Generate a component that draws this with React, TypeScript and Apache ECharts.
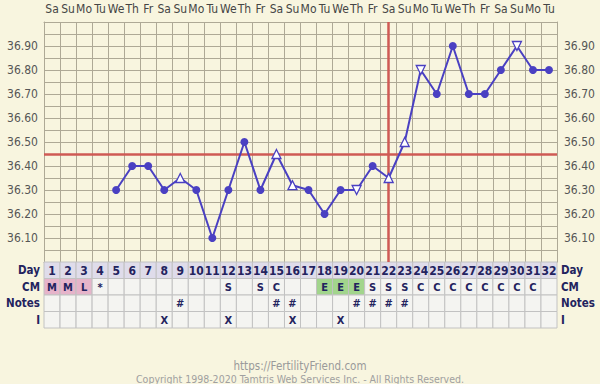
import React, { useEffect, useRef } from "react";
import * as echarts from "echarts";

const days: string[] = Array.from({ length: 32 }, (_, i) => String(i + 1));
const weekdays: string[] = [
  "Sa","Su","Mo","Tu","We","Th","Fr","Sa","Su","Mo","Tu","We","Th","Fr","Sa","Su",
  "Mo","Tu","We","Th","Fr","Sa","Su","Mo","Tu","We","Th","Fr","Sa","Su","Mo","Tu",
];
// temperature per cycle day (null = no reading)
const temps: (number | null)[] = [
  null, null, null, null, 36.3, 36.4, 36.4, 36.3, 36.35, 36.3, 36.1, 36.3, 36.5, 36.3, 36.45, 36.32,
  36.3, 36.2, 36.3, 36.3, 36.4, 36.35, 36.5, 36.8, 36.7, 36.9, 36.7, 36.7, 36.8, 36.9, 36.8, 36.8,
];
// o = normal (filled), u = open triangle up, d = open triangle down
const markers: string[] = [
  "", "", "", "", "o", "o", "o", "o", "u", "o", "o", "o", "o", "o", "u", "u",
  "o", "o", "o", "d", "o", "u", "u", "d", "o", "o", "o", "o", "o", "d", "o", "o",
];
const coverline = 36.45;
const ovulationDay = "22";
const rowNames: string[] = ["Day", "CM", "Notes", "I"];
const cmRow: string[] = [
  "M", "M", "L", "*", "", "", "", "", "", "", "", "S", "", "S", "C", "",
  "", "E", "E", "E", "S", "S", "S", "C", "C", "C", "C", "C", "C", "C", "C", "",
];
const notesRow: string[] = [
  "", "", "", "", "", "", "", "", "#", "", "", "", "", "", "#", "#",
  "", "", "", "#", "#", "#", "#", "", "", "", "", "", "", "", "", "",
];
const iRow: string[] = [
  "", "", "", "", "", "", "", "X", "", "", "", "X", "", "", "", "X",
  "", "", "X", "", "", "", "", "", "", "", "", "", "", "", "", "",
];

const BG = "#f8f5df";
const GRIDLINE = "#aea996";
const BLUE = "#4a40c2";
const RED = "#cf5a54";
const NAVY = "#23235e";
const FONT = "'DejaVu Sans Condensed', 'DejaVu Sans', sans-serif";

export default function App() {
  const ref = useRef<HTMLDivElement>(null);
  useEffect(() => {
    if (!ref.current) return;
    const chart = echarts.init(ref.current, undefined, { renderer: "svg" });

    const lineData = temps.map((t, i) => {
      if (t === null) return { value: null };
      const m = markers[i];
      if (m === "o") {
        return { value: t, symbol: "circle", symbolSize: 8, itemStyle: { color: BLUE } };
      }
      return {
        value: t,
        symbol: "triangle",
        symbolSize: 9,
        symbolRotate: m === "d" ? 180 : 0,
        itemStyle: { color: "#ffffff", borderColor: BLUE, borderWidth: 1.3 },
      };
    });

    const cellBg = (row: number, col: number, text: string) => {
      if (row === 0) return "#dfdcea";
      if (row === 1 && (text === "M" || text === "L")) return "#e6b4ca";
      if (row === 1 && text === "E") return "#a2d58c";
      return "#f4f4f1";
    };
    const tableData: any[] = [];
    for (let c = 0; c < 32; c++) {
      const texts = [days[c], cmRow[c], notesRow[c], iRow[c]];
      for (let r = 0; r < 4; r++) {
        tableData.push({ value: [c, r], txt: texts[r], bg: cellBg(r, c, texts[r]) });
      }
    }

    const yFormatter = (v: number) => {
      const k = Math.round(v * 100);
      if (k % 10 !== 0 || k === 3600 || k === 3700) return "";
      return (k / 100).toFixed(2);
    };

    const option: any = {
      animation: false,
      backgroundColor: BG,
      textStyle: { fontFamily: FONT },
      grid: [
        { left: 44, top: 22, width: 513, height: 240 },
        { left: 44, top: 262, width: 513, height: 66 },
      ],
      xAxis: [
        {
          type: "category", gridIndex: 0, data: days, boundaryGap: true,
          axisLabel: { show: false }, axisTick: { show: false },
          axisLine: { show: true, lineStyle: { color: GRIDLINE } },
          splitLine: { show: true, interval: 0, lineStyle: { color: GRIDLINE, width: 1 } },
        },
        {
          type: "category", gridIndex: 0, data: weekdays, position: "top", boundaryGap: true,
          axisLabel: { interval: 0, color: "#454545", fontSize: 12, margin: 7, fontFamily: FONT },
          axisTick: { show: false },
          axisLine: { show: true, lineStyle: { color: GRIDLINE } },
          splitLine: { show: false },
        },
        {
          type: "category", gridIndex: 1, data: days, boundaryGap: true,
          axisLabel: { show: false }, axisTick: { show: false }, axisLine: { show: false },
          splitLine: { show: false },
        },
      ],
      yAxis: [
        {
          type: "value", gridIndex: 0, min: 36, max: 37, interval: 0.05, position: "left",
          axisLabel: { formatter: yFormatter, color: "#555555", fontSize: 12, margin: 6, fontFamily: FONT },
          axisTick: { show: false },
          axisLine: { show: true, lineStyle: { color: GRIDLINE } },
          splitLine: { show: true, lineStyle: { color: GRIDLINE, width: 1 } },
        },
        {
          type: "value", gridIndex: 0, min: 36, max: 37, interval: 0.05, position: "right",
          axisLabel: { formatter: yFormatter, color: "#555555", fontSize: 12, margin: 7, fontFamily: FONT },
          axisTick: { show: false },
          axisLine: { show: true, lineStyle: { color: GRIDLINE } },
          splitLine: { show: false },
        },
        {
          type: "category", gridIndex: 1, data: rowNames, inverse: true, position: "left",
          axisLabel: { color: NAVY, fontWeight: "bold", fontSize: 11.5, margin: 4, fontFamily: FONT },
          axisTick: { show: false }, axisLine: { show: false }, splitLine: { show: false },
        },
        {
          type: "category", gridIndex: 1, data: rowNames, inverse: true, position: "right",
          axisLabel: { color: NAVY, fontWeight: "bold", fontSize: 11.5, margin: 4, fontFamily: FONT },
          axisTick: { show: false }, axisLine: { show: false }, splitLine: { show: false },
        },
      ],
      series: [
        {
          type: "line",
          xAxisIndex: 0,
          yAxisIndex: 0,
          data: lineData,
          lineStyle: { color: BLUE, width: 2 },
          itemStyle: { color: BLUE },
          z: 5,
          markLine: {
            silent: true,
            symbol: "none",
            label: { show: false },
            lineStyle: { color: RED, width: 2.5, type: "solid" },
            data: [{ yAxis: coverline }, { xAxis: ovulationDay }],
          },
        },
        {
          type: "custom",
          xAxisIndex: 2,
          yAxisIndex: 2,
          data: tableData,
          renderItem: (params: any, api: any) => {
            const c = api.value(0);
            const r = api.value(1);
            const p = api.coord([c, r]);
            const s = api.size([1, 1]);
            const item = tableData[params.dataIndex];
            return {
              type: "group",
              children: [
                {
                  type: "rect",
                  shape: { x: p[0] - s[0] / 2, y: p[1] - s[1] / 2, width: s[0], height: s[1] },
                  style: { fill: item.bg, stroke: "#c2c2c2", lineWidth: 1 },
                },
                {
                  type: "text",
                  style: {
                    text: item.txt,
                    x: p[0],
                    y: p[1] + 0.5,
                    align: "center",
                    verticalAlign: "middle",
                    fill: NAVY,
                    fontSize: r === 0 ? 12 : 11,
                    fontWeight: "bold",
                    fontFamily: FONT,
                  },
                },
              ],
            };
          },
        },
      ],
      graphic: [
        {
          type: "text", left: "center", top: 360,
          style: { text: "https://FertilityFriend.com", fill: "#9a9a9a", fontSize: 11.5, fontFamily: FONT },
        },
        {
          type: "text", left: "center", top: 373,
          style: {
            text: "Copyright 1998-2020 Tamtris Web Services Inc. - All Rights Reserved.",
            fill: "#a0a0a0", fontSize: 10.5, fontFamily: FONT,
          },
        },
      ],
    };
    chart.setOption(option);
    return () => chart.dispose();
  }, []);
  return (
    <div
      ref={ref}
      style={{ position: "fixed", left: 0, top: 0, width: 600, height: 384, background: BG }}
    />
  );
}
